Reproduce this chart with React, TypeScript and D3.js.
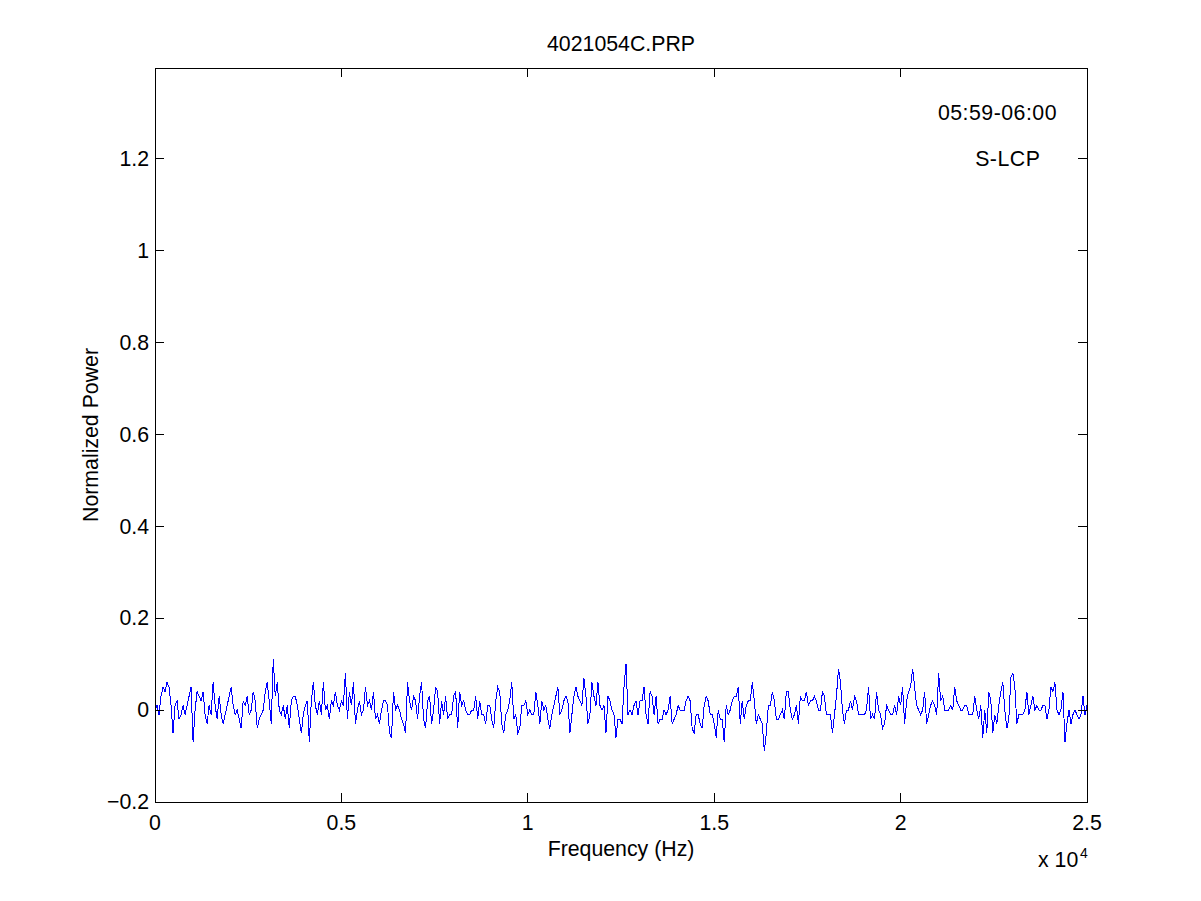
import React from 'react';
import * as d3 from 'd3';

// Normalized power in hundredths (0.01 units), equally spaced bins 0..25000 Hz
const powerSeg1 = [0,1,-1,3,5,4,6,5,1,-5,1,2,-2,-1,1,-1,1,3,5,-7,0,4,3,2,4,-1,-3,1,-1,6,1,-2,3,-1,-3,-1,1,3,5,1,-1,0,-2,-4,2];
const powerSeg2 = [1,3,-1,0,4,2,-4,-2,-1,0,4,6,2,-3,11,3,6,0,-1,1,-2,1,-4,2,3,3,1,-2,-5,-1,1,2,-7,2,6,1,-1,2,-1,6,0,1,-2,2,1,4,1,0];
const powerSeg3 = [2,1,8,-2,4,1,6,-3,0,2,-1,0,5,1,2,0,4,-2,-1,-3,0,2,2,1,-5,-6,4,0,1,0,-2,-3,-5,6,2,0,3,2,-2,3,6,-2,-4,2,3,-3,0];
const powerSeg4 = [5,4,-3,2,-1,3,-2,-1,-1,3,4,-4,4,1,2,0,-1,-1,0,0,3,-2,2,-1,-1,-3,1,1,-2,-4,2,5,4,-3,-5,-1,0,2,6,-2,-1,-5,-4,1,1,2,-1,0];
const powerSeg5 = [-1,-1,4,1,-3,2,0,1,-2,-4,-1,1,3,5,-1,0,2,3,2,-5,-1,3,5,3,2,1,7,3,-3,-1,6,3,1,6,1,0,1,-5,3,2,0,-1,-6,-2,-2,-3,5];
const powerSeg6 = [10,-1,0,-1,1,2,-1,2,2,5,-1,-3,4,3,-1,3,-3,-2,-2,0,-1,0,3,-3,-2,-1,1,0,0,0,2,3,2,-4,-5,-1,-1,-3,-4,1,3,2,-1,-1,-3,-6,0,-2];
const powerSeg7 = [-2,-7,1,-1,0,2,3,3,5,-3,2,-2,1,2,2,6,2,-3,-1,-2,-3,-9,-5,1,1,4,2,-2,-2,-1,0,-2,4,4,0,-2,-1,1,-3,3,2,2,4,1,2,2,3];
const powerSeg8 = [2,0,0,4,3,-1,-1,-1,-5,-1,3,9,6,0,-3,0,0,2,0,3,2,-1,-1,-1,-1,0,5,-2,-1,-2,4,0,-1,-4,-3,1,0,-1,-1,1,-1,3,1,5,-3,2,4,5];
const powerSeg9 = [9,5,1,0,-1,0,4,-3,-1,1,2,1,-1,8,2,3,0,0,0,1,0,5,2,1,0,0,1,1,-1,-1,-1,3,0,-2,1,-6,0,-5,4,2,-5,-1,-3,1,4,6,0];
const powerSeg10 = [-4,-2,7,8,5,-3,-1,-1,-1,0,4,-1,1,3,0,1,0,0,1,1,-2,0,5,4,6,0,-1,0,4,-7,-3,0,-3,-1,0,-1,-2,-1,3,-1,1];

const powerHundredths = [
  ...powerSeg1, ...powerSeg2, ...powerSeg3, ...powerSeg4, ...powerSeg5,
  ...powerSeg6, ...powerSeg7, ...powerSeg8, ...powerSeg9, ...powerSeg10,
];

const freqMax = 25000;
const xTicks = [0, 5000, 10000, 15000, 20000, 25000];
const xTickLabels = ['0', '0.5', '1', '1.5', '2', '2.5'];
const yTicks = [-0.2, 0, 0.2, 0.4, 0.6, 0.8, 1, 1.2];
const yTickLabels = ['\u22120.2', '0', '0.2', '0.4', '0.6', '0.8', '1', '1.2'];
const yDomain = [-0.2, 1.396];

const titleText = '4021054C.PRP';
const xLabelText = 'Frequency (Hz)';
const yLabelText = 'Normalized Power';
const annotations = [
  { f: 21000, v: 1.3, text: '05:59-06:00' },
  { f: 22000, v: 1.2, text: 'S-LCP' },
];

export default function App() {
  const W = 1201, H = 901;
  const left = 155, right = 1087, top = 68, bottom = 802;
  const x = d3.scaleLinear().domain([0, freqMax]).range([left, right]);
  const y = d3.scaleLinear().domain(yDomain).range([bottom, top]);
  const n = powerHundredths.length;
  const pts: [number, number][] = powerHundredths.map((v, i) => [(i * freqMax) / (n - 1), v / 100]);
  const line = d3.line<[number, number]>().x(d => x(d[0])).y(d => y(d[1]));
  const font = "Helvetica, 'Liberation Sans', Arial, sans-serif";
  const fs = 21.3;
  const tickLen = 9;

  return (
    <svg width={W} height={H} style={{ position: 'absolute', left: 0, top: 0, background: '#fff' }}
      fontFamily={font} fontSize={fs}>
      <rect x={0} y={0} width={W} height={H} fill="#fff" />
      <path d={line(pts) || ''} fill="none" stroke="#0000ff" strokeWidth={1} shapeRendering="crispEdges" />
      <rect x={left} y={top} width={right - left} height={bottom - top} fill="none" stroke="#000" strokeWidth={1} shapeRendering="crispEdges" />
      {xTicks.map((t, i) => (
        <g key={'xt' + i} shapeRendering="crispEdges">
          <line x1={x(t)} x2={x(t)} y1={bottom} y2={bottom - tickLen} stroke="#000" />
          <line x1={x(t)} x2={x(t)} y1={top} y2={top + tickLen} stroke="#000" />
          <text x={x(t)} y={830} textAnchor="middle">{xTickLabels[i]}</text>
        </g>
      ))}
      {yTicks.map((t, i) => (
        <g key={'yt' + i} shapeRendering="crispEdges">
          <line x1={left} x2={left + tickLen} y1={y(t)} y2={y(t)} stroke="#000" />
          <line x1={right} x2={right - tickLen} y1={y(t)} y2={y(t)} stroke="#000" />
          <text x={149} y={y(t)} dy="0.35em" textAnchor="end">{yTickLabels[i]}</text>
        </g>
      ))}
      <text x={(left + right) / 2} y={51} textAnchor="middle">{titleText}</text>
      <text x={(left + right) / 2} y={856} textAnchor="middle">{xLabelText}</text>
      <text x={1038} y={867}>x 10</text>
      <text x={1080} y={858} fontSize={14}>4</text>
      <text transform={`translate(98, ${(top + bottom) / 2}) rotate(-90)`} textAnchor="middle">{yLabelText}</text>
      {annotations.map((a, i) => (
        <text key={'an' + i} x={x(a.f)} y={y(a.v)} dy="0.35em" letterSpacing={0.5}>{a.text}</text>
      ))}
    </svg>
  );
}
